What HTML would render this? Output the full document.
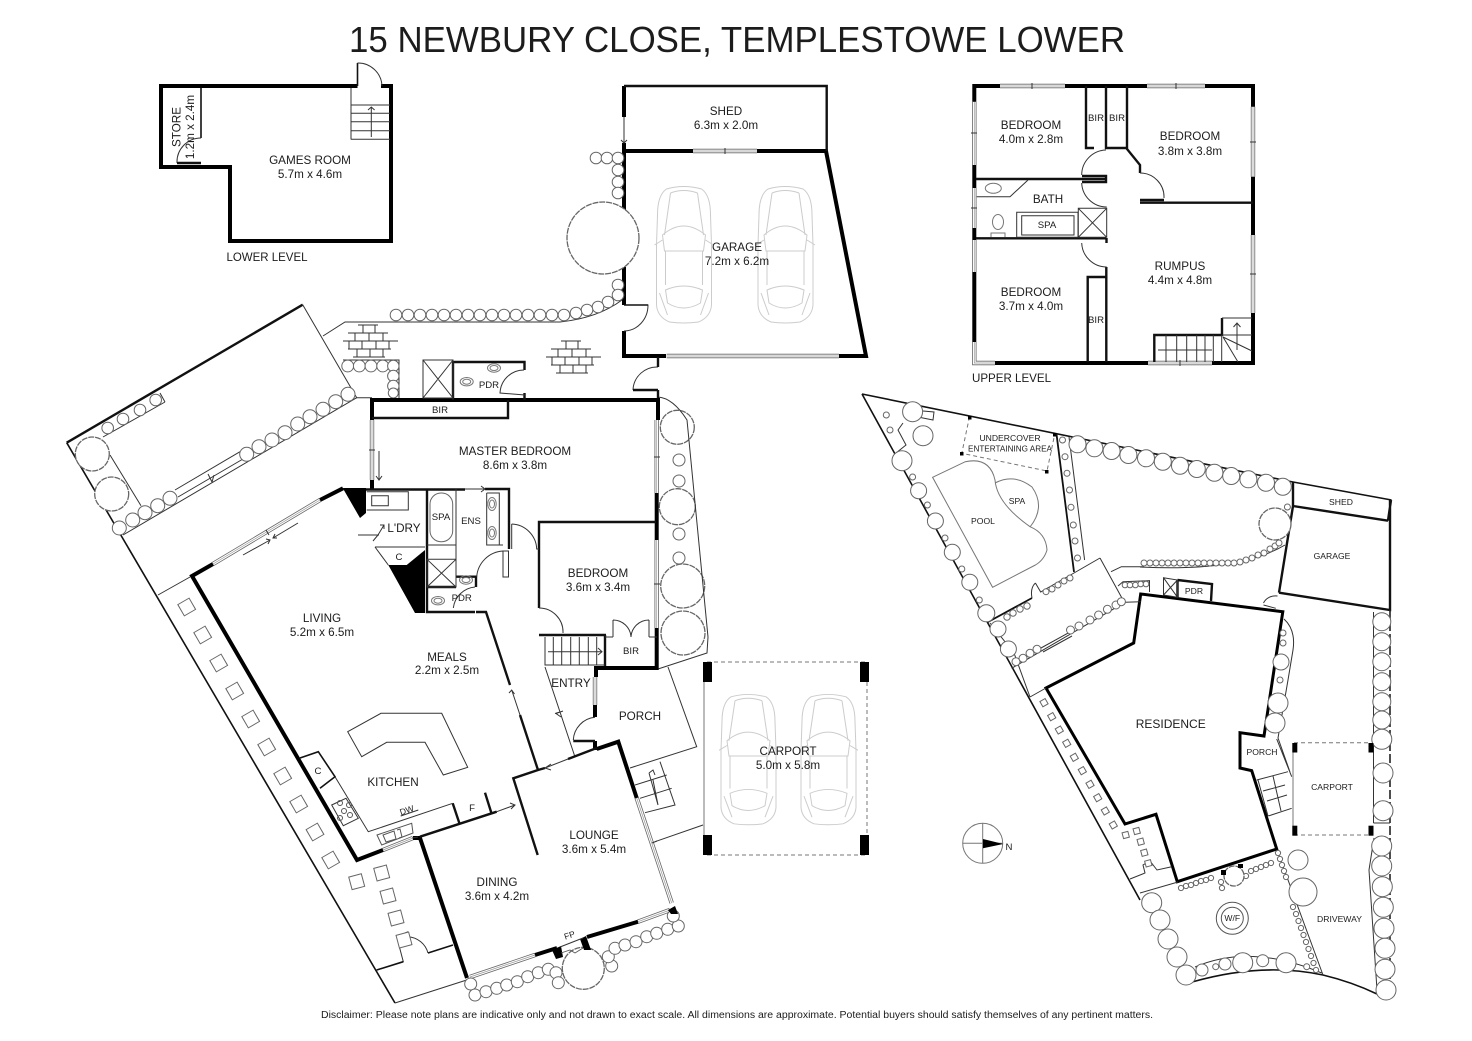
<!DOCTYPE html>
<html><head><meta charset="utf-8"><title>15 Newbury Close</title>
<style>
html,body{margin:0;padding:0;background:#fff}
svg{display:block}
text{font-family:"Liberation Sans",sans-serif;fill:#1c1c1c;text-anchor:middle;font-size:11.7px}
.s{font-size:9.6px}.x{font-size:8.6px}
.w{fill:none;stroke:#000;stroke-width:4;stroke-linejoin:miter}
.m{fill:none;stroke:#111;stroke-width:2.4}
.n{fill:none;stroke:#111;stroke-width:1.6}
.t{fill:none;stroke:#333;stroke-width:1}
.l{fill:none;stroke:#777;stroke-width:1}
.b{fill:#000;stroke:none}
.c circle{fill:#fff;stroke:#666;stroke-width:1}
.tr circle{fill:#fff;stroke:#666;stroke-width:1.3;stroke-dasharray:6 .9}
.q rect{fill:#fff;stroke:#666;stroke-width:1}
.d{fill:none;stroke:#777;stroke-width:1;stroke-dasharray:4 3}
.car{fill:none;stroke:#ccc;stroke-width:1}
</style></head><body>
<svg xmlns="http://www.w3.org/2000/svg" width="1472" height="1041" viewBox="0 0 1472 1041">
<defs>
<path id="wins" d="M693,151H757M666.7,356H839M372,420V480M656.7,420V493M656.7,540V628M213,564L320,500M383,850L413,838M470,977L535,955M638,921.7L670,910M636.7,798L671.7,903M595,677V705M1000,86H1065M1147,86H1205M974.3,101.7V165M974.3,188V228M974.3,240V272M974.3,342V363H995M1253,106.7V176.7M1253,235V313M1148,363H1212"/>
<g id="car" class="car">
<path fill="#fff" d="M10,4Q27,-1 45,4Q54,10 54,30L55,60L55,120Q54,132 42,137Q27,139 13,137Q1,132 0,120L0,60L1,30Q1,10 10,4Z"/>
<path d="M6,50Q27,32 49,50L47,66L8,66ZM8,50L14,8M47,50L41,8M14,8Q27,3 41,8M9,66L9,100M46,66L46,100M9,105Q27,97 46,105L44,118Q27,128 11,118ZM3,108L11,130M52,108L44,130M6,55L-2,60M49,55L57,60"/>
</g>
<g id="brick" class="t" stroke-width=".9">
<path d="M15,0H35M5,8H45M0,16H55M5,24H48M10,32H42M20,0V8M32,0V8M12,8V16M26,8V16M40,8V16M6,16V24M19,16V24M33,16V24M46,16V24M14,24V32M27,24V32M40,24V32"/>
</g>
<g id="tl" class="l"><ellipse cx="0" cy="0" rx="6.5" ry="4.2"/><ellipse cx="0" cy="0" rx="4" ry="2.5"/></g>
</defs>
<rect width="1472" height="1041" fill="#fff"/>

<text x="737" y="52" style="font-size:36.4px" textLength="776" lengthAdjust="spacingAndGlyphs">15 NEWBURY CLOSE, TEMPLESTOWE LOWER</text>

<!-- LOWER LEVEL -->
<path class="w" d="M357.5,86H161V167H230V241H391V86H381"/>
<path class="n" d="M357.5,86V63"/><path class="t" d="M357.5,63A24,24 0 0 1 382,86"/>
<path class="n" d="M201,88V138"/><path class="t" d="M201,138A24,24 0 0 0 177,163M351,88V139.5M351,105H390M351,113.3H390M351,121.7H390M351,130.7H390M351,139.3H390M371.3,137V107M368,110L371.3,107L374.6,110"/>
<path class="m" d="M177,163H201"/>
<text x="310" y="164">GAMES ROOM</text><text x="310" y="178">5.7m x 4.6m</text>
<text x="267" y="261" textLength="81" lengthAdjust="spacingAndGlyphs">LOWER LEVEL</text>
<text transform="translate(180.5,127) rotate(-90)">STORE</text>
<text transform="translate(194,127) rotate(-90)">1.2m x 2.4m</text>

<!-- SHED / GARAGE -->
<path class="w" d="M624,143V151H693M757,151H826L866,356H839M666,356H624V331M624,305V267M624,210V151M624,86V117"/>
<path class="m" d="M624,86H826.7V151"/>
<path class="t" d="M624,117V143M621,140L624,143L627,140M624,305H648A24,26 0 0 1 624,331"/>
<path class="m" d="M624,305H648" style="stroke-width:1.5"/>
<use href="#wins" fill="none" stroke="#666" stroke-width="4.4"/>
<use href="#wins" fill="none" stroke="#fff" stroke-width="2.8"/>
<use href="#wins" fill="none" stroke="#999" stroke-width=".7"/>
<path class="t" d="M725,148V154M1032,83V89M1176,83V89M1180,360V366M971,133H977M971,208H977M1250,142H1256M1250,274H1256M369,450H375M654,457H660M654,584H660M266,530L269,535M652,843L657,841"/>
<use href="#car" transform="translate(656.5,185)"/><use href="#car" transform="translate(758,185)"/>
<g class="tr"><circle cx="603" cy="238" r="36"/></g>
<path class="t" d="M323,336L345,322H560Q598,318 622,300"/>
<g class="c"><circle cx="596" cy="158" r="5.8"/><circle cx="607" cy="158" r="5.8"/><circle cx="618" cy="158" r="5.8"/><circle cx="618" cy="170" r="5.8"/><circle cx="618" cy="182" r="5.8"/><circle cx="618" cy="193" r="5.8"/><circle cx="618" cy="285" r="5.8"/><circle cx="618" cy="295" r="5.8"/><circle cx="608" cy="302" r="5.8"/><circle cx="598" cy="307" r="5.8"/><circle cx="587" cy="310" r="5.8"/><circle cx="576" cy="313" r="5.8"/><circle cx="564" cy="315" r="5.8"/><circle cx="552" cy="315" r="5.8"/><circle cx="540" cy="315" r="5.8"/><circle cx="528" cy="315" r="5.8"/><circle cx="516" cy="315" r="5.8"/><circle cx="504" cy="315" r="5.8"/><circle cx="492" cy="315" r="5.8"/><circle cx="480" cy="315" r="5.8"/><circle cx="468" cy="315" r="5.8"/><circle cx="456" cy="315" r="5.8"/><circle cx="444" cy="315" r="5.8"/><circle cx="432" cy="315" r="5.8"/><circle cx="420" cy="315" r="5.8"/><circle cx="408" cy="315" r="5.8"/><circle cx="396" cy="315" r="5.8"/></g>
<use href="#brick" transform="translate(343,325)"/><use href="#brick" transform="translate(546,341)"/>
<text x="726" y="115">SHED</text><text x="726" y="129">6.3m x 2.0m</text>
<text x="737" y="251">GARAGE</text><text x="737" y="265">7.2m x 6.2m</text>

<!-- MAIN FLOOR site -->
<path class="m" d="M66.7,442.7L302.7,304.7"/>
<path class="t" d="M302.7,304.7L356.7,397.7H372M343,360H399V398"/>
<path class="n" d="M66.7,442.7L395,1003"/>
<path class="t" d="M395,1003L466.7,980M160,393L165,402M103,437L165,402M110,455L141,505.7M123,535L356.7,397.7M175,490L240,451.7M178,497L243,459M158,595L190,577M208,474L212,482L214,475"/>
<path class="t" d="M243,555L270,540M266,539L270,540L268,544M298,523L273,538M277,538L273,538L275,534"/>
<g class="c"><circle cx="107.7" cy="428" r="5.8"/><circle cx="123" cy="419" r="5.8"/><circle cx="140" cy="410" r="5.8"/><circle cx="155.7" cy="400" r="5.8"/>
<circle cx="119.3" cy="528" r="7"/><circle cx="132.7" cy="520" r="7"/><circle cx="145" cy="512.7" r="7"/><circle cx="157.7" cy="505.7" r="7"/><circle cx="170" cy="498.3" r="7"/><circle cx="246.7" cy="454.3" r="7"/><circle cx="259" cy="446.7" r="7"/><circle cx="272" cy="440" r="7"/><circle cx="285" cy="432.7" r="7"/><circle cx="297.7" cy="424" r="7"/><circle cx="310" cy="416.7" r="7"/><circle cx="323" cy="409.3" r="7"/><circle cx="335.7" cy="401.7" r="7"/><circle cx="348" cy="394.3" r="7"/>
<circle cx="347.7" cy="366" r="5.9"/><circle cx="359.3" cy="366" r="5.9"/><circle cx="371" cy="366" r="5.9"/><circle cx="382.7" cy="366" r="5.9"/><circle cx="393.3" cy="366" r="5.7"/><circle cx="393.3" cy="376" r="5.7"/><circle cx="393.3" cy="386" r="5.7"/><circle cx="393.3" cy="393" r="5"/>
<circle cx="679" cy="460" r="6"/><circle cx="679" cy="481" r="6"/><circle cx="679" cy="534" r="6"/><circle cx="679" cy="558" r="6"/>
<circle cx="470.7" cy="984" r="6"/><circle cx="475" cy="995" r="6"/><circle cx="486" cy="991.7" r="6"/><circle cx="496.7" cy="988.3" r="6"/><circle cx="506.7" cy="985" r="6"/><circle cx="517.3" cy="981.7" r="6"/><circle cx="527.7" cy="976.7" r="6"/><circle cx="538.3" cy="972.7" r="6"/><circle cx="548.3" cy="969.3" r="6"/><circle cx="556" cy="972.7" r="6"/><circle cx="558.3" cy="982.7" r="6"/><circle cx="611.7" cy="966" r="6"/><circle cx="608.3" cy="956.7" r="6"/><circle cx="615" cy="948.3" r="6"/><circle cx="625" cy="945" r="6"/><circle cx="636" cy="941.7" r="6"/><circle cx="646.7" cy="936.7" r="6"/><circle cx="656.7" cy="933.3" r="6"/><circle cx="667.7" cy="929.3" r="6"/><circle cx="678.3" cy="926" r="6"/><circle cx="673.3" cy="916" r="6"/></g>
<g class="tr"><circle cx="92.3" cy="454" r="17"/><circle cx="111.7" cy="494" r="17"/><circle cx="677.3" cy="427.3" r="17"/><circle cx="677.3" cy="506.7" r="18"/><circle cx="682.7" cy="586" r="22"/><circle cx="683" cy="633" r="22"/><circle cx="583.3" cy="968.3" r="21"/></g>
<path class="t" d="M658,397Q673,398 687,420L708,637L707,653L658,669M668,667L696.7,746.7L630,768M660,761.7L675,805L645,812.7M635,785L666.7,775M640,798.3L671.7,788.3M653,780L658,805M655,841.7L703,825M649,773L653,770L655,775M649,773L658,805M545,667L575,757M563,711L556,713.5L561,717M555,713.5L560,712"/>
<path class="t" d="M376.7,970L403.3,961.7L396.7,936.7L408,931.7M408,936.7A22,22 0 0 1 428,953"/><path class="n" d="M376.7,970L403.3,961.7M428,953L453,945"/>
<g class="q"><rect x="-6.5" y="-6.5" width="13" height="13" transform="translate(186.7,607) rotate(-30)"/><rect x="-6.5" y="-6.5" width="13" height="13" transform="translate(202.7,635) rotate(-30)"/><rect x="-6.5" y="-6.5" width="13" height="13" transform="translate(218.7,663) rotate(-30)"/><rect x="-6.5" y="-6.5" width="13" height="13" transform="translate(234.7,691) rotate(-30)"/><rect x="-6.5" y="-6.5" width="13" height="13" transform="translate(250.7,719) rotate(-30)"/><rect x="-6.5" y="-6.5" width="13" height="13" transform="translate(266.7,747) rotate(-30)"/><rect x="-6.5" y="-6.5" width="13" height="13" transform="translate(282.7,776) rotate(-30)"/><rect x="-6.5" y="-6.5" width="13" height="13" transform="translate(298.7,804) rotate(-30)"/><rect x="-6.5" y="-6.5" width="13" height="13" transform="translate(315,832) rotate(-30)"/><rect x="-6.5" y="-6.5" width="13" height="13" transform="translate(330.7,860) rotate(-30)"/><rect x="-6.5" y="-6.5" width="13" height="13" transform="translate(356.7,881.7) rotate(-15)"/><rect x="-6.5" y="-6.5" width="13" height="13" transform="translate(381.7,873) rotate(-15)"/><rect x="-6.5" y="-6.5" width="13" height="13" transform="translate(388,896) rotate(-15)"/><rect x="-6.5" y="-6.5" width="13" height="13" transform="translate(396,918) rotate(-15)"/><rect x="-6.5" y="-6.5" width="13" height="13" transform="translate(404,940) rotate(-15)"/></g>

<!-- MAIN FLOOR walls -->
<path class="w" d="M372,420V400H658V420M656.7,493V540M656.7,628V668H596V677M372,480V490"/>
<path class="w" d="M595,705V717M595,741V750"/>
<path class="w" d="M213,564L192,576L357,860L383,850M413,838H420L467,978M320,500L343,488.3M535,955L557,948M587,937L638,921.7"/>
<path class="w" d="M596.7,749L618.3,741.7L636.7,798"/>
<path class="b" d="M342.7,488L366,488V513L360,518ZM388.3,565H406.7L425,550V613H415ZM552,950L561,946L563,957L556,959ZM580,939L586,936L591,950L584,950ZM668,910L675,906L678,914L671,914Z"/>
<path class="m" d="M476,612L486,612L510,685M520,715L538,770L513.3,778.3L537.7,855M545,768L538,770M420,836.7L496.7,811.7M452.7,803.3L459.3,823M485,792.7L491.7,814M568,759L596.7,748"/>
<path class="t" d="M511.7,690L520,715M509,693L511.7,690L514.5,694M496.7,811.7L515,805M510,803L515,805L511,809M545,768L568,759M551,764L545,768L551,770"/>
<path class="m" d="M508,400V418H372M453,400V362H524.5V370M524.5,393V400M366,489.5H465M427,489V612H475M485,489H509V549M539,608V522H656M539,635H606M605,635V666M426,587H456M456,576.7H476V587"/>
<path class="t" d="M423,360H453V398H423ZM423,360L453,398M453,360L423,398M524,370A24,24 0 0 0 500,393L525,395M465,489H485M481,486L485,489L481,492M427,545H456M427,559.3H456V587H427ZM427,559.3L456,587M456,559.3L427,587M456,489V576.7M486.7,493V545H503M486.7,493H499.3V545M476.7,576.7A28,28 0 0 1 503,551H508.5V577H503V551M475,587A24,24 0 0 0 453.3,608M511.7,524A26,26 0 0 1 536.7,549H539M511.7,524V549M545,637V665H605M553.3,637V665M561.7,637V665M570.7,637V665M579.3,637V665M588.3,637V665M596.7,637V665M548,651.7H602M598,648L602,651.7L598,655M539,608A24,24 0 0 1 563,633M613,620V637M649,620V637M613,620A18,18 0 0 1 631,637A18,18 0 0 1 649,620M649,637H657M605,637H613"/>
<path class="t" d="M366.7,491.7H408.3V510H366.7M371.7,495.7H388.3V505.7H371.7ZM375,547H425M375,547L388.3,565M379,535H358M378,535L384,525M380,525H384V529M378,535L373,541"/>
<g stroke="#666" fill="#fff" stroke-width="1"><rect x="430" y="493" width="22.7" height="48.7" rx="11"/></g>
<use href="#tl" transform="translate(492,504) rotate(90)"/><use href="#tl" transform="translate(492,533) rotate(90)"/>
<use href="#tl" transform="translate(466.7,381.7)"/><use href="#tl" transform="translate(494,368)"/><use href="#tl" transform="translate(438,600.7)"/><use href="#tl" transform="translate(466,580)"/>
<path class="t" d="M379,451V480M376,476L379,480L382,476"/>
<path class="t" d="M658,390H633M658,367A24,24 0 0 0 633,390"/><path class="m" d="M658,357V367M658,390V398"/><path class="m" d="M633,390H658"/>
<!-- porch door -->
<path class="t" d="M595,717.3A24,24 0 0 0 573.3,740"/><path class="m" d="M573.3,741H595"/>
<!-- kitchen -->
<path class="n" d="M300,758L318.3,751.7L335,776.7L320,788.3"/>
<path class="t" d="M335,776.7L368.3,831.7L452.7,803.3M347.7,731.7L381,713.3H441.7L467.7,767.3L443.3,775L425,742.3H386.7L361.7,756.7ZM400.7,816L418.3,810M331.7,805L346,798.3L358.3,818.3L343.3,825.7Z"/>
<g fill="none" stroke="#555"><circle cx="340" cy="803" r="2.5"/><circle cx="349" cy="805" r="2.5"/><circle cx="344" cy="811" r="2.5"/><circle cx="340" cy="818" r="2.5"/><circle cx="350" cy="815" r="2.5"/><path d="M377,835L411.7,823.3L413,833L381.7,845Z"/><path d="M383,835L394,831L396,839L386,842ZM397,830L400,829L402,837L399,838"/></g>
<path class="t" d="M412,838L418,837"/>
<path class="t" d="M560,947L583,938" stroke="#777"/>
<path fill="none" stroke="#555" stroke-width=".8" d="M561,953L570,950L575,953L583,948"/>
<text transform="translate(407.7,813) rotate(-18)" class="x">DW</text>
<text x="472" y="811" class="s">F</text>
<text x="318" y="774" class="s">C</text>
<text x="399" y="560" class="s">C</text>
<text x="570.5" y="938" class="x" transform="rotate(-18 570.5 938)">FP</text>
<text x="515" y="455">MASTER BEDROOM</text><text x="515" y="469">8.6m x 3.8m</text>
<text x="598" y="577">BEDROOM</text><text x="598" y="591">3.6m x 3.4m</text>
<text x="322" y="622">LIVING</text><text x="322" y="636">5.2m x 6.5m</text>
<text x="447" y="661">MEALS</text><text x="447" y="674">2.2m x 2.5m</text>
<text x="393" y="786">KITCHEN</text>
<text x="571" y="687">ENTRY</text>
<text x="640" y="720">PORCH</text>
<text x="594" y="839">LOUNGE</text><text x="594" y="853">3.6m x 5.4m</text>
<text x="497" y="886">DINING</text><text x="497" y="900">3.6m x 4.2m</text>
<text x="404" y="532">L'DRY</text>
<text x="440" y="413" class="s">BIR</text><text x="631" y="654" class="s">BIR</text>
<text x="489" y="388" class="s">PDR</text><text x="461.7" y="601" class="s">PDR</text>
<text x="441" y="520" class="s">SPA</text><text x="471" y="524" class="s">ENS</text>

<!-- CARPORT -->
<path class="d" d="M707,662H865M707,855H865M867,682V835"/>
<path class="l" d="M704,682V835"/>
<rect class="b" x="703" y="662" width="9" height="20"/><rect class="b" x="703" y="835" width="9" height="20"/><rect class="b" x="860" y="662" width="9" height="20"/><rect class="b" x="860" y="835" width="9" height="20"/>
<use href="#car" transform="translate(721,693) scale(1,.955)"/><use href="#car" transform="translate(801,693) scale(1,.955)"/>
<text x="788" y="755">CARPORT</text><text x="788" y="769">5.0m x 5.8m</text>

<!-- UPPER LEVEL -->
<path class="w" d="M1000,86H974.3V101.7M974.3,165V188M974.3,228V240M974.3,272V342M995,363H1148M1212,363H1253V313M1253,235V176.7M1253,106.7V86H1205M1147,86H1065"/>
<path class="m" d="M1106,86V148H1127M1086,86V148H1094M1127,86V149L1140,165V173M1140,200H1164M1140,202.7H1253M976,179H1106M1082,176H1106V182H1082M976,238.3H1106M1106.5,238V243M1106.3,267V277H1087.7V362M1106.3,277V362M1154.3,362V335H1222V318"/>
<path class="t" d="M1106,150A25,25 0 0 0 1081.7,175M1081.7,183A25,25 0 0 0 1106.7,207M1140,173A24,24 0 0 1 1164,198M1081.7,243A25,25 0 0 0 1106.7,267M976.7,196.7H1010L1028,180M1016.7,212.3H1078V237.3H1016.7ZM1021.7,215.7H1074V235H1021.7ZM1078.3,208.3H1106.7V237.3H1078.3ZM1078.3,208.3L1106.7,237.3M1106.7,208.3L1078.3,237.3M1166,335V362M1176.7,335V362M1186.7,335V362M1196.7,335V362M1205,335V362M1213.3,335V362M1221.7,335V362M1158,350H1212M1222,318H1252M1222,335H1252M1223,337L1252,351M1223,337L1238,362M1237,350V323M1233.5,327L1237,323L1240.5,327"/>
<ellipse cx="993.3" cy="188.3" rx="8" ry="5" class="l"/>
<g class="l"><ellipse cx="998" cy="222" rx="5.5" ry="7.5"/><path d="M991,237V233H1005V237"/></g>
<text x="1031" y="129">BEDROOM</text><text x="1031" y="143">4.0m x 2.8m</text>
<text x="1190" y="140">BEDROOM</text><text x="1190" y="155">3.8m x 3.8m</text>
<text x="1048" y="203">BATH</text><text x="1047" y="228" class="s">SPA</text>
<text x="1031" y="296">BEDROOM</text><text x="1031" y="310">3.7m x 4.0m</text>
<text x="1180" y="270">RUMPUS</text><text x="1180" y="284">4.4m x 4.8m</text>
<text x="1096" y="121" class="s">BIR</text><text x="1117" y="121" class="s">BIR</text><text x="1096" y="323" class="s">BIR</text>
<text x="1011.5" y="382" textLength="79" lengthAdjust="spacingAndGlyphs">UPPER LEVEL</text>

<!-- SITE PLAN -->
<path class="n" d="M862,394L1293,482L1391.5,500M862,394L1140,900"/>
<path class="m" d="M1293,506L1388,520.7M1279,592.7L1390,610V500M1293,506L1279,592.7M1293,482L1293,506M1388,520.7L1391,500"/>
<path class="n" d="M1192,982Q1262,962 1323,975Q1352,982 1377,994"/>
<path fill="none" stroke="#222" stroke-width="1.6" stroke-dasharray="9 3" d="M1390,610V993"/>
<path class="w" style="stroke-width:3" d="M1282.8,611.7L1140.7,594L1133.7,643L1046,688L1125,824L1156,814.3L1177.3,881.7L1276.7,849L1251.7,770.7L1240,768V732.7L1264,736L1282.8,611.7Z"/>
<path class="m" d="M1177.5,580L1212,584L1211,601M1177.5,580V597.3"/>
<path class="t" d="M1163.5,577.7L1177.5,580V597.3L1163.5,595ZM1163.5,577.7L1177.5,597.3M1177.5,580L1163.5,595M1263.5,605L1275.8,608.3M1263.5,603A13,12 0 0 1 1277.5,596"/>
<path class="d" d="M969.5,416.7L961.8,453.3L1047,471L1054.7,434.3" stroke-width=".8"/>
<rect class="b" x="968" y="416" width="3.5" height="3.5"/><rect class="b" x="960" y="452" width="3.5" height="3.5"/><rect class="b" x="1045" y="470" width="3.5" height="3.5"/><rect class="b" x="1053" y="433" width="3.5" height="3.5"/>
<path class="l" d="M932.6,477.3L965.3,461.7Q989.8,456.7 995,480Q996.8,503.3 1030,526.7Q1046,533.3 1047,550Q1044,560 1035.4,565L992.6,587.3ZM995,483Q1014,473 1032,487Q1046,507 1030,527"/>
<path class="m" style="stroke-width:1.8" d="M1056.5,434L1074,572M988,622L1032,598"/>
<path class="t" d="M1069,437L1084.6,560M1100,558L1123,600M1100,558L1074,573M1111,571.7L1121.4,566.7H1144M1011.6,668.3L1125,602.3L1140.7,601.7M990,623L1014,653M1030,697L1046,688M1014,653L1030,697M1035.4,583L1040.7,592L1044,590L1074,573M1032,598Q1030,588 1035.4,583M1118,586L1123,581.7L1149.5,580.7V592M1041,648L1070,632M1043,652L1072,636M1140,567Q1240,572 1285,545M1288,680L1278,738L1290,772M1284,619Q1296,630 1293,650L1288,680M1276.7,739L1291.7,776.7M1256.7,780L1288,771.7M1268.3,816L1291.7,808.3M1258,780L1268,816M1263,791L1285,785M1267,801L1287,795M1273,776L1281,811M1140,893L1178,882M1130,879L1145,873L1143,865L1150,861L1157,870L1171.7,866.7M1195,967Q1250,943 1321.7,973M1373.5,612V823M1373.5,823H1390M1374,838L1369,870L1377,990M923,411L934,412L933,420L918,417M903,423L898,430L906,445L896,453M1277,850L1323,975"/>
<g class="c"><circle cx="1077.5" cy="444.3" r="8.5"/><circle cx="1094.4" cy="448.3" r="8.5"/><circle cx="1111.6" cy="451" r="8.5"/><circle cx="1128.4" cy="455" r="8.5"/><circle cx="1146" cy="458.3" r="8.5"/><circle cx="1162.8" cy="461.7" r="8.5"/><circle cx="1180" cy="465.7" r="8.5"/><circle cx="1196.8" cy="469" r="8.5"/><circle cx="1214.4" cy="472.7" r="8.5"/><circle cx="1231.2" cy="476" r="8.5"/><circle cx="1248.4" cy="479.3" r="8.5"/><circle cx="1266" cy="482.7" r="8.5"/><circle cx="1282.8" cy="486.7" r="8.5"/>
<circle cx="912.6" cy="411.7" r="10"/><circle cx="902" cy="460.7" r="10"/><circle cx="918.6" cy="490.7" r="8"/><circle cx="935.4" cy="521" r="8"/><circle cx="952.3" cy="552.3" r="8"/><circle cx="969.8" cy="582.3" r="8"/><circle cx="986.3" cy="613.3" r="8.5"/><circle cx="998" cy="629" r="8"/><circle cx="1008.4" cy="649" r="8"/><circle cx="923" cy="435.7" r="10"/>
<circle cx="886.3" cy="415" r="3"/><circle cx="890" cy="430" r="3"/><circle cx="912.6" cy="477" r="3"/><circle cx="927.4" cy="505" r="3"/><circle cx="945" cy="538" r="3"/><circle cx="961.8" cy="569" r="3"/><circle cx="979.3" cy="600" r="3"/>
<circle cx="1062.5" cy="440" r="3"/><circle cx="1065" cy="456.7" r="3"/><circle cx="1067" cy="473.3" r="3"/><circle cx="1069.5" cy="490" r="3"/><circle cx="1071" cy="507.3" r="3"/><circle cx="1073.3" cy="525" r="3"/><circle cx="1075" cy="541" r="3"/><circle cx="1077.5" cy="558" r="3"/>
<circle cx="1016" cy="661.7" r="4"/><circle cx="1023" cy="658.3" r="4"/><circle cx="1030" cy="653.3" r="4"/><circle cx="1037" cy="649.3" r="4"/><circle cx="1070.5" cy="630" r="4"/><circle cx="1079" cy="626" r="4"/><circle cx="1090" cy="620" r="4"/><circle cx="1098.6" cy="615" r="4"/><circle cx="1107.4" cy="609.3" r="4"/><circle cx="1116" cy="605" r="4"/><circle cx="1121.4" cy="601.7" r="4"/>
<circle cx="1007" cy="617" r="3.2"/><circle cx="1013" cy="613" r="3.2"/><circle cx="1020" cy="609" r="3.2"/><circle cx="1027" cy="606" r="3.2"/><circle cx="1046" cy="591.7" r="3"/><circle cx="1052" cy="589" r="3"/><circle cx="1058" cy="585" r="3"/><circle cx="1064" cy="581" r="3"/><circle cx="1070" cy="578" r="3"/>
<circle cx="1125" cy="585" r="2.8"/><circle cx="1130" cy="585" r="2.8"/><circle cx="1135.4" cy="585" r="2.8"/><circle cx="1140.7" cy="584" r="2.8"/><circle cx="1146" cy="584" r="2.8"/>
<circle cx="1144" cy="563" r="3"/><circle cx="1150" cy="563" r="3"/><circle cx="1156" cy="563" r="3"/><circle cx="1162" cy="563" r="3"/><circle cx="1168" cy="563" r="3"/><circle cx="1174" cy="563" r="3"/><circle cx="1180" cy="563" r="3"/><circle cx="1186" cy="563" r="3"/><circle cx="1192" cy="563" r="3"/><circle cx="1198" cy="563" r="3"/><circle cx="1204" cy="563" r="3"/><circle cx="1210" cy="563" r="3"/><circle cx="1216" cy="563" r="3"/><circle cx="1222" cy="563" r="3"/><circle cx="1228" cy="563" r="3"/><circle cx="1234" cy="563" r="3"/><circle cx="1240" cy="562" r="3"/><circle cx="1246" cy="560" r="3"/><circle cx="1252" cy="558" r="3"/><circle cx="1258" cy="555" r="3"/><circle cx="1264" cy="553" r="3"/><circle cx="1270" cy="549" r="3"/><circle cx="1275" cy="546" r="3"/><circle cx="1279" cy="543" r="3"/><circle cx="1287.4" cy="507" r="3"/>
<circle cx="1283" cy="633" r="3"/><circle cx="1283" cy="643" r="3"/><circle cx="1281" cy="662" r="8"/><circle cx="1280" cy="680" r="3"/><circle cx="1278" cy="703" r="10"/><circle cx="1275" cy="723" r="10"/>
<circle cx="1381.8" cy="621.7" r="9"/><circle cx="1381.8" cy="641.7" r="9"/><circle cx="1381.8" cy="661.7" r="9"/><circle cx="1381.8" cy="681.7" r="9"/><circle cx="1381.8" cy="701.7" r="9"/><circle cx="1381.8" cy="720" r="9"/><circle cx="1381.8" cy="739.3" r="10"/><circle cx="1383" cy="773" r="10"/><circle cx="1383" cy="810.7" r="10"/>
<circle cx="1381.7" cy="846" r="10"/><circle cx="1381.7" cy="866" r="10"/><circle cx="1382.3" cy="886.7" r="10"/><circle cx="1383.3" cy="907.3" r="10"/><circle cx="1384" cy="928.3" r="10"/><circle cx="1385" cy="948.3" r="10"/><circle cx="1385" cy="969.3" r="10"/><circle cx="1386" cy="990" r="10"/>
<circle cx="1298" cy="860" r="10"/><circle cx="1303" cy="892" r="14"/>
<circle cx="1151.7" cy="902.7" r="10"/><circle cx="1160" cy="920" r="10"/><circle cx="1168" cy="939" r="10"/><circle cx="1177" cy="957" r="10"/><circle cx="1186" cy="975" r="10"/>
<circle cx="1202" cy="970" r="6"/><circle cx="1215.7" cy="966.7" r="3"/><circle cx="1225" cy="964" r="6"/><circle cx="1242.7" cy="962.7" r="10"/><circle cx="1262.7" cy="960.7" r="6"/><circle cx="1286" cy="962.7" r="10"/><circle cx="1306.7" cy="966.7" r="3"/>
<circle cx="1181" cy="888" r="2.6"/><circle cx="1186" cy="886" r="2.6"/><circle cx="1191" cy="885" r="2.6"/><circle cx="1196" cy="883" r="2.6"/><circle cx="1201" cy="881" r="2.6"/><circle cx="1206" cy="880" r="2.6"/><circle cx="1211" cy="878" r="2.6"/><circle cx="1221" cy="882" r="2.6"/><circle cx="1222" cy="888" r="2.6"/><circle cx="1246" cy="876" r="2.6"/><circle cx="1251" cy="871" r="2.6"/><circle cx="1256" cy="869" r="2.6"/><circle cx="1261" cy="867" r="2.6"/><circle cx="1266" cy="865" r="2.6"/><circle cx="1271" cy="863" r="2.6"/>
<circle cx="1278" cy="853" r="2.6"/><circle cx="1280" cy="859" r="2.6"/><circle cx="1282" cy="865" r="2.6"/><circle cx="1284" cy="871" r="2.6"/><circle cx="1286" cy="877" r="2.6"/><circle cx="1293" cy="907" r="2.6"/><circle cx="1296" cy="914" r="2.6"/><circle cx="1298.5" cy="921" r="2.6"/><circle cx="1301" cy="928" r="2.6"/><circle cx="1303.5" cy="935" r="2.6"/><circle cx="1306" cy="942" r="2.6"/><circle cx="1308.5" cy="949" r="2.6"/><circle cx="1311" cy="956" r="2.6"/><circle cx="1313.5" cy="963" r="2.6"/><circle cx="1316" cy="970" r="2.6"/></g>
<g class="tr"><circle cx="1275" cy="524" r="16"/><circle cx="1234" cy="876" r="10"/></g>
<rect x="1221" y="870" width="5" height="5" class="b"/><rect x="1238" y="864" width="5" height="4" class="b"/>
<g class="q"><rect x="-3" y="-3" width="6" height="6" transform="translate(1044,702.7) rotate(-30)"/><rect x="-3" y="-3" width="6" height="6" transform="translate(1051.7,716.7) rotate(-30)"/><rect x="-3" y="-3" width="6" height="6" transform="translate(1059.3,730) rotate(-30)"/><rect x="-3" y="-3" width="6" height="6" transform="translate(1066.7,743.3) rotate(-30)"/><rect x="-3" y="-3" width="6" height="6" transform="translate(1074.3,757.3) rotate(-30)"/><rect x="-3" y="-3" width="6" height="6" transform="translate(1082.3,770.7) rotate(-30)"/><rect x="-3" y="-3" width="6" height="6" transform="translate(1090,784.3) rotate(-30)"/><rect x="-3" y="-3" width="6" height="6" transform="translate(1097.7,797.7) rotate(-30)"/><rect x="-3" y="-3" width="6" height="6" transform="translate(1105.3,811) rotate(-30)"/><rect x="-3" y="-3" width="6" height="6" transform="translate(1113.3,825) rotate(-30)"/><rect x="-3" y="-3" width="6" height="6" transform="translate(1125.7,835) rotate(-15)"/><rect x="-3" y="-3" width="6" height="6" transform="translate(1136.7,831) rotate(-15)"/><rect x="-3" y="-3" width="6" height="6" transform="translate(1140.7,841.7) rotate(-15)"/><rect x="-3" y="-3" width="6" height="6" transform="translate(1144.3,852.7) rotate(-15)"/><rect x="-3" y="-3" width="6" height="6" transform="translate(1148.3,863.3) rotate(-15)"/></g>
<!-- site carport -->
<path class="d" d="M1294,742.7H1371M1294,835H1371" stroke-width=".8"/><path class="l" d="M1293,752V826"/>
<rect class="b" x="1292.3" y="743" width="5" height="9.5"/><rect class="b" x="1368.5" y="743" width="5" height="9.5"/><rect class="b" x="1292.3" y="825.7" width="5" height="10"/><rect class="b" x="1368.5" y="825.7" width="5" height="10"/>
<!-- wishing fountain & compass -->
<g fill="none" stroke="#555"><circle cx="1232.3" cy="918.3" r="16"/><circle cx="1232.3" cy="918.3" r="11"/></g>
<g fill="none" stroke="#777"><circle cx="982.7" cy="843.3" r="20"/><path d="M982.7,823V863M963,843.3H1003"/></g>
<path class="b" d="M983,839L1003.3,844L983,848.3Z"/>
<text x="1009" y="850" class="s">N</text>
<text x="1010" y="441" class="x">UNDERCOVER</text><text x="1010" y="451.5" class="x" textLength="84" lengthAdjust="spacingAndGlyphs">ENTERTAINING AREA</text>
<text x="983" y="524" class="x">POOL</text><text x="1017" y="504" class="x">SPA</text>
<text x="1341" y="505" class="x">SHED</text><text x="1332" y="559" class="x">GARAGE</text>
<text x="1194" y="594" class="x">PDR</text>
<text x="1170.7" y="728" style="font-size:12px">RESIDENCE</text>
<text x="1262" y="755" class="x">PORCH</text><text x="1332" y="790" class="x">CARPORT</text>
<text x="1339.5" y="922" class="x">DRIVEWAY</text><text x="1232.3" y="921" class="x">W/F</text>

<text x="737" y="1018" style="font-size:9.7px" textLength="832" lengthAdjust="spacingAndGlyphs">Disclaimer: Please note plans are indicative only and not drawn to exact scale. All dimensions are approximate. Potential buyers should satisfy themselves of any pertinent matters.</text>
</svg>
</body></html>
